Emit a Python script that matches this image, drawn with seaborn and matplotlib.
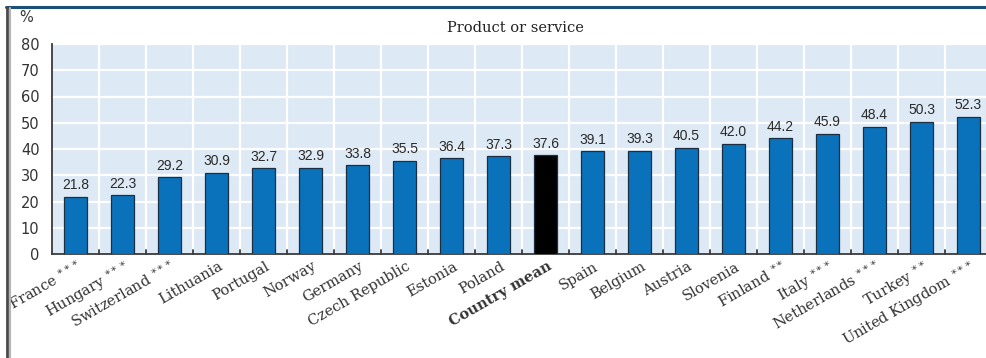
import matplotlib
matplotlib.use("Agg")
import matplotlib.pyplot as plt
from matplotlib.lines import Line2D
import seaborn as sns
import pandas as pd

countries = [
    "France", "Hungary", "Switzerland", "Lithuania", "Portugal",
    "Norway", "Germany", "Czech Republic", "Estonia", "Poland",
    "Country mean", "Spain", "Belgium", "Austria", "Slovenia",
    "Finland", "Italy", "Netherlands", "Turkey", "United Kingdom",
]
significance = [
    "***", "***", "***", "", "",
    "", "", "", "", "",
    "", "", "", "", "",
    "**", "***", "***", "**", "***",
]
values = [
    21.8, 22.3, 29.2, 30.9, 32.7,
    32.9, 33.8, 35.5, 36.4, 37.3,
    37.6, 39.1, 39.3, 40.5, 42.0,
    44.2, 45.9, 48.4, 50.3, 52.3,
]
title = "Product or service"
y_ticks = [0, 10, 20, 30, 40, 50, 60, 70, 80]

BLUE = "#0a72bb"
MEAN = "#000000"
BG = "#dde9f4"

df = pd.DataFrame({"country": countries, "value": values})
palette = {c: (MEAN if c == "Country mean" else BLUE) for c in countries}

sns.set_theme(style="white")
plt.rcParams["font.family"] = ["DejaVu Sans"]
plt.rcParams["mathtext.fontset"] = "dejavuserif"

W, H = 987, 358
fig = plt.figure(figsize=(W / 100, H / 100), dpi=100)
left, right = 52 / W, 1.0
bottom, top = 1 - 254 / H, 1 - 44 / H
ax = fig.add_axes([left, bottom, right - left, top - bottom])
ax.set_facecolor(BG)

sns.barplot(
    data=df, x="country", y="value", hue="country", palette=palette,
    legend=False, width=0.47, edgecolor="#1c2f42", linewidth=0.9,
    saturation=1, ax=ax, zorder=3,
)

n = len(countries)
ax.set_xlim(-0.5, -0.5 + (W - 52) / 47)
ax.set_ylim(0, 80)

# white grid: horizontal at each tick, vertical between categories
for y in y_ticks[1:]:
    ax.axhline(y, color="white", lw=1.6, zorder=1)
for i in range(n):
    ax.axvline(i + 0.5, color="white", lw=1.6, zorder=1)

# value labels above bars
for i, v in enumerate(values):
    ax.text(i, v + 1.7, f"{v:.1f}", ha="center", va="bottom",
            fontsize=10, color="#2a2a2a", family="Liberation Sans", zorder=4)

# axes styling
for s in ["top", "right"]:
    ax.spines[s].set_visible(False)
for s in ["left", "bottom"]:
    ax.spines[s].set_color("#3a3a3a")
    ax.spines[s].set_linewidth(1.3)

ax.set_yticks(y_ticks)
ax.set_yticklabels([str(t) for t in y_ticks], fontsize=10.5, color="#333333")
ax.tick_params(axis="y", direction="in", length=5, width=1.3, color="#3a3a3a", pad=9)

ax.set_xticks(range(n))
ax.set_xticklabels([])
ax.tick_params(axis="x", length=0)
# small upward ticks at category boundaries
for i in range(n):
    ax.plot([i + 0.5, i + 0.5], [0, 1.6], color="#3a3a3a", lw=1.3, zorder=4,
            clip_on=False)

ax.set_xlabel("")
ax.set_ylabel("")

# rotated category labels, significance stars set as small superscripts
for i, (c, sig) in enumerate(zip(countries, significance)):
    stars = r"\!".join([r"\ast"] * len(sig))
    label = c + (" $^{" + stars + "}$" if sig else "")
    ax.text(i + 0.03, -2.0, label, rotation=30, rotation_mode="anchor",
            ha="right", va="top", fontsize=10.5, color="#333333",
            family="DejaVu Serif",
            fontweight="bold" if c == "Country mean" else "normal")

fig.text(26 / W, 1 - 17 / H, "%", ha="center", va="center", fontsize=10.5,
         color="#333333")
fig.text(515 / W, 1 - 28 / H, title, ha="center", va="center", fontsize=10.5,
         color="#222222", family="DejaVu Serif")

# frame lines
fig.add_artist(Line2D([6 / W, 1], [1 - 7 / H, 1 - 7 / H], color="#1d4f7c", lw=2.2))
fig.add_artist(Line2D([7 / W, 7 / W], [0, 1 - 7 / H], color="#4a4a4a", lw=2.0))
fig.add_artist(Line2D([9.5 / W, 9.5 / W], [0, 1 - 8 / H], color="#b5b5b5", lw=1.5))

fig.savefig("out.png", dpi=100, facecolor="white")
